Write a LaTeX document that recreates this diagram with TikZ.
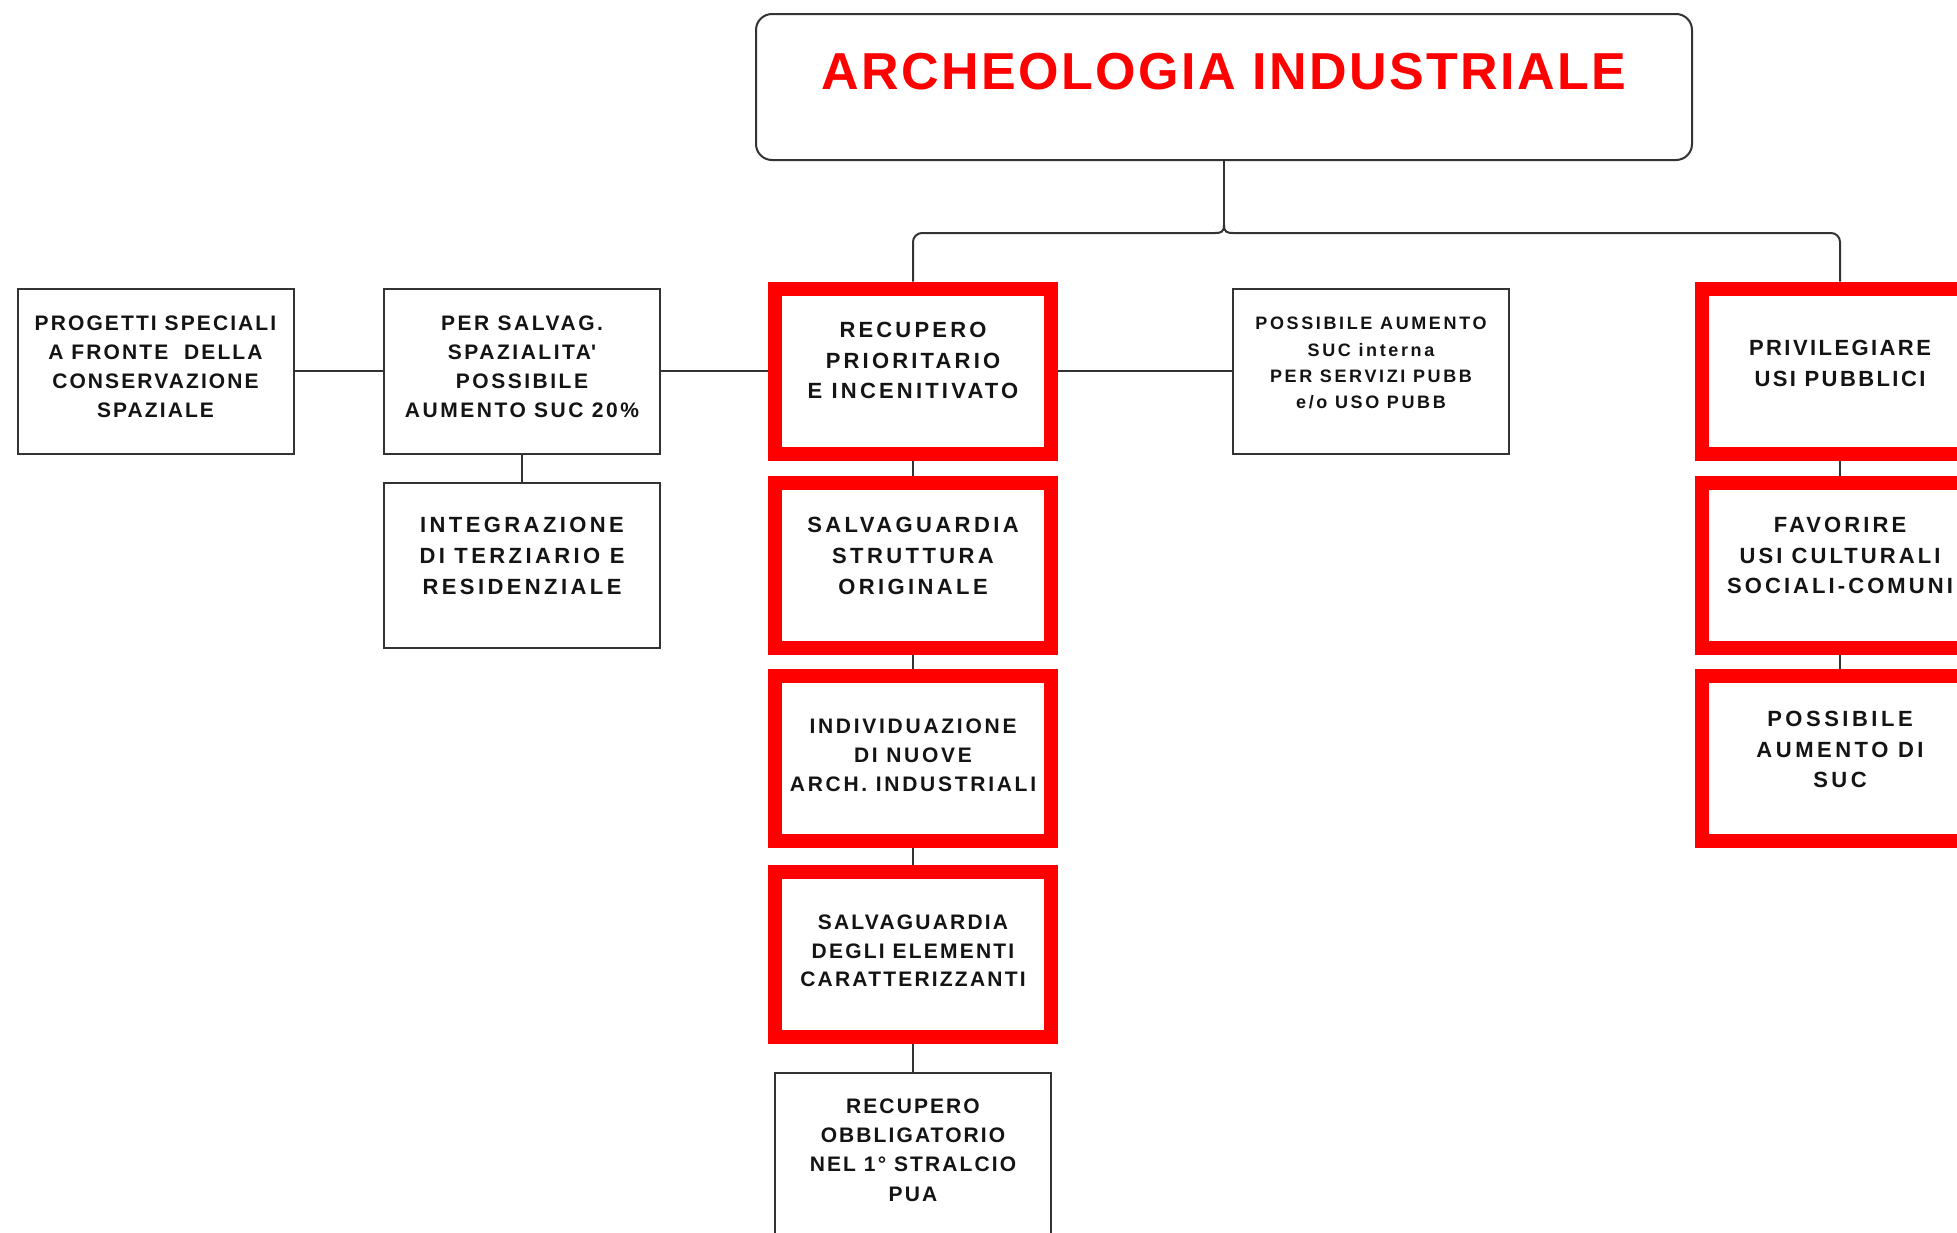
\documentclass[tikz,border=0pt]{standalone}
\usepackage{fontspec}
\setmainfont{Liberation Sans}
\usetikzlibrary{calc}
\definecolor{lin}{HTML}{333333}
\definecolor{rd}{HTML}{FF0000}
\newcommand\fnt[3]{\fontsize{#1pt}{#2pt}\selectfont\bfseries\addfontfeature{LetterSpace=#3}}
\newcommand\lift[1]{\rule[-#1pt]{0pt}{#1pt}}
\begin{document}
\begin{tikzpicture}[x=1pt,y=-1pt,
  bx/.style={draw=lin, line width=2pt, minimum width=276pt, minimum height=165pt, inner sep=0pt, align=center, text=black!92, fill=white},
  rbx/.style={bx, draw=rd, line width=14pt},
  conn/.style={draw=lin, line width=2pt}]
\useasboundingbox[fill=white] (0,0) rectangle (1957,1232);

% title
\node[draw=lin, line width=2pt, rounded corners=16pt, minimum width=936pt, minimum height=146pt, inner sep=0pt, text=rd, font=\fnt{52}{60}{4.6}] (T) at (1224,87) {ARCHEOLOGIA INDUSTRIALE\lift{31}};

% row 1
\node[bx, font=\fnt{21}{29}{10}] (A) at (155.5,371) {PROGETTI SPECIALI\\A FRONTE\ \ DELLA\\CONSERVAZIONE\\SPAZIALE\lift{9}};
\node[bx, font=\fnt{21}{29}{12}] (B) at (522,371) {PER SALVAG.\\SPAZIALITA\textquotesingle\\POSSIBILE\\AUMENTO SUC 20\%\lift{9}};
\node[rbx, font=\fnt{22}{30.6}{14.5}] (C) at (913,371) {RECUPERO\\PRIORITARIO\\E INCENITIVATO\lift{21}};
\node[bx, font=\fnt{18}{26.3}{14.6}] (D) at (1371,371) {POSSIBILE AUMENTO\\SUC interna\\PER SERVIZI PUBB\\e/o USO PUBB\lift{16}};
\node[rbx, font=\fnt{22}{31.5}{11}] (E) at (1840,371) {PRIVILEGIARE\\USI PUBBLICI\lift{15}};

% row 2
\node[bx, font=\fnt{22}{31}{15.5}] (Bint) at (522,565) {INTEGRAZIONE\\DI TERZIARIO E\\RESIDENZIALE\lift{18}};
\node[rbx, font=\fnt{22}{31}{15.5}] (C2) at (913,565.5) {SALVAGUARDIA\\STRUTTURA\\ORIGINALE\lift{19}};
\node[rbx, font=\fnt{22}{30.5}{14}] (E2) at (1840,565.5) {FAVORIRE\\USI CULTURALI\\SOCIALI-COMUNI\lift{20}};

% row 3
\node[rbx, font=\fnt{21}{29}{13}] (C3) at (913,758.5) {INDIVIDUAZIONE\\DI NUOVE\\ARCH. INDUSTRIALI\lift{7}};
\node[rbx, font=\fnt{22}{30.5}{16}] (E3) at (1840,758.5) {POSSIBILE\\AUMENTO DI\\SUC\lift{18}};

% row 4
\node[rbx, font=\fnt{21}{28.5}{10.5}] (C4) at (913,954.5) {SALVAGUARDIA\\DEGLI ELEMENTI\\CARATTERIZZANTI\lift{7}};

% row 5
\node[bx, font=\fnt{21}{29.2}{10}] (Cbot) at (913,1155.5) {RECUPERO\\OBBLIGATORIO\\NEL 1° STRALCIO\\PUA\lift{11}};

% connectors
\draw[conn] (A) -- (B);
\draw[conn] (B) -- (C);
\draw[conn] (C) -- (D);
\draw[conn] (B) -- (Bint);
\draw[conn] (C) -- (C2);
\draw[conn] (C2) -- (C3);
\draw[conn] (C3) -- (C4);
\draw[conn] (C4) -- (Cbot);
\draw[conn] (E) -- (E2);
\draw[conn] (E2) -- (E3);

% brace from the title
\coordinate (J) at (1224,233);
\coordinate (Jt) at ($(J)+(0,-8)$);
\coordinate (Jl) at ($(J)+(-9,0)$);
\coordinate (Jr) at ($(J)+(9,0)$);
\draw[conn] (T.south) -- (Jt);
\draw[conn] (Jt) .. controls ($(J)+(0,-1)$) and ($(J)+(-3,0)$) .. (Jl);
\draw[conn] (Jt) .. controls ($(J)+(0,-1)$) and ($(J)+(3,0)$) .. (Jr);
\draw[conn, rounded corners=9pt] (Jl) -- (C.north |- J) -- (C.north);
\draw[conn, rounded corners=9pt] (Jr) -- (E.north |- J) -- (E.north);
\end{tikzpicture}
\end{document}
